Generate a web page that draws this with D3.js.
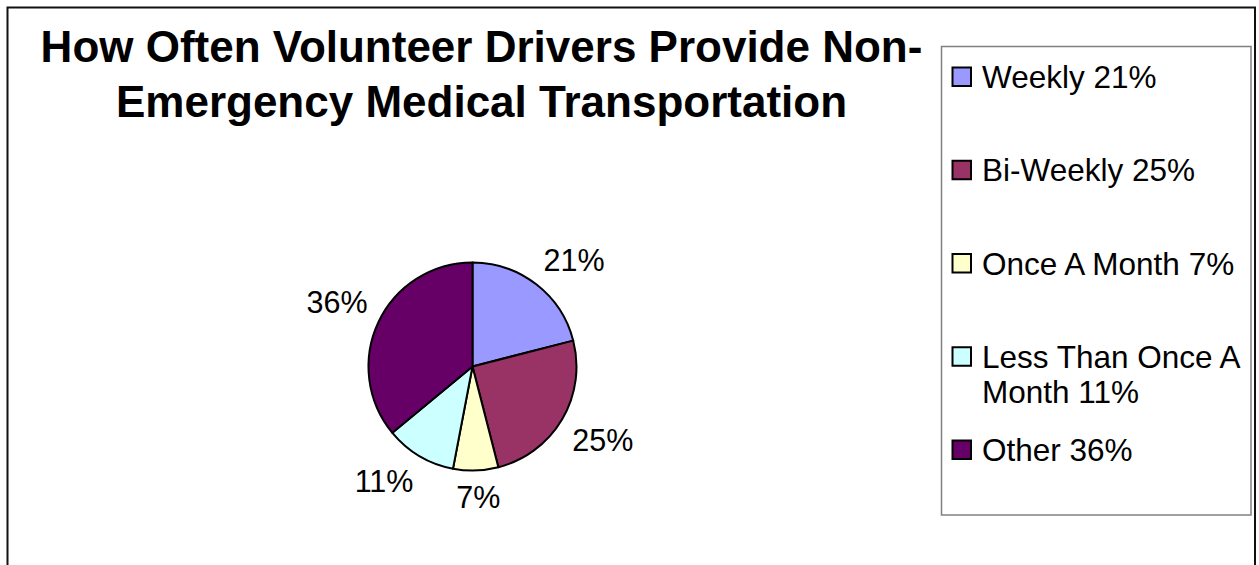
<!DOCTYPE html>
<html>
<head>
<meta charset="utf-8">
<script src="https://cdnjs.cloudflare.com/ajax/libs/d3/7.8.5/d3.min.js"></script>
<style>
  body { margin: 0; background: #fff; }
  svg { display: block; font-family: "Liberation Sans", Arial, sans-serif; }
</style>
</head>
<body>
<div id="chart"></div>
<script>
const WIDTH = 1259;
const HEIGHT = 565;

const categories = ["Weekly", "Bi-Weekly", "Once A Month", "Less Than Once A Month", "Other"];
const values = [21, 25, 7, 11, 36];
const colors = ["#9999ff", "#993366", "#ffffcc", "#ccffff", "#660066"];
// legend text split the way the picture wraps it
const legendLines = [
    ["Weekly 21%"],
    ["Bi-Weekly 25%"],
    ["Once A Month 7%"],
    ["Less Than Once A", "Month 11%"],
    ["Other 36%"]
];
const titleLines = ["How Often Volunteer Drivers Provide Non-", "Emergency Medical Transportation"];

const CX = 472.5;
const CY = 366.5;
const R = 104;
const LABEL_R = 116;
const LABEL_SIZE = 30.5;

let svg = d3.select("#chart")
            .append("svg")
            .attr("width", WIDTH)
            .attr("height", HEIGHT);

svg.append("rect")
    .attr("width", WIDTH)
    .attr("height", HEIGHT)
    .attr("fill", "#fff");

// chart area frame, bottom edge runs off the picture
svg.append("rect")
    .attr("x", 7.5)
    .attr("y", 7.5)
    .attr("width", 1247.5)
    .attr("height", 600)
    .attr("fill", "none")
    .attr("stroke", "#111")
    .attr("stroke-width", 2);

svg.append("text")
    .attr("text-anchor", "middle")
    .attr("font-size", 44)
    .attr("font-weight", "bold")
    .selectAll("tspan")
    .data(titleLines)
    .join("tspan")
    .attr("x", 481.5)
    .attr("y", (d, i) => 62 + i * 55)
    .text(d => d);

// pie
let pie = d3.pie().sort(null).value(d => d);
let arcs = pie(values);
let arc = d3.arc().innerRadius(0).outerRadius(R);

let pieG = svg.append("g").attr("transform", `translate(${CX},${CY})`);

pieG.selectAll("path")
    .data(arcs)
    .join("path")
    .attr("d", arc)
    .attr("fill", (d, i) => colors[i])
    .attr("stroke", "#000")
    .attr("stroke-width", 2)
    .attr("stroke-linejoin", "round");

// data labels: the label box corner nearest the pie sits on the mid angle
let clamp = v => Math.max(-1, Math.min(1, v));
pieG.selectAll("text.lbl")
    .data(arcs)
    .join("text")
    .attr("class", "lbl")
    .attr("font-size", LABEL_SIZE)
    .attr("text-anchor", "middle")
    .text(d => d.data + "%")
    .each(function(d) {
        let a = (d.startAngle + d.endAngle) / 2;
        let w = this.getComputedTextLength();
        let h = 30;
        let ax = Math.sin(a) * LABEL_R;
        let ay = -Math.cos(a) * LABEL_R;
        let cx = ax + clamp(Math.sin(a) * 3) * w / 2;
        let cy = ay - clamp(Math.cos(a) * 3) * h / 2;
        d3.select(this)
            .attr("x", cx)
            .attr("y", cy + LABEL_SIZE * 0.358);
    });

// legend
const LEG_X = 941.5;
const LEG_Y = 46.5;
const LEG_W = 309.5;
const LEG_H = 468.5;
const LEG_SIZE = 31.5;
const LEG_LINE = 35;

svg.append("rect")
    .attr("x", LEG_X)
    .attr("y", LEG_Y)
    .attr("width", LEG_W)
    .attr("height", LEG_H)
    .attr("fill", "#fff")
    .attr("stroke", "#808080")
    .attr("stroke-width", 1.5);

// entries sit on an even step, the wrapped one runs into the gap below it
let legendY = d3.scalePoint()
    .domain(categories)
    .range([88, 461]);

let items = svg.append("g")
    .selectAll("g")
    .data(categories)
    .join("g")
    .attr("transform", d => `translate(${LEG_X}, ${legendY(d)})`);

items.append("rect")
    .attr("x", 11)
    .attr("y", -20.5)
    .attr("width", 18.5)
    .attr("height", 18.5)
    .attr("fill", (d, i) => colors[i])
    .attr("stroke", "#000")
    .attr("stroke-width", 2);

items.append("text")
    .attr("font-size", LEG_SIZE)
    .selectAll("tspan")
    .data((d, i) => legendLines[i])
    .join("tspan")
    .attr("x", 40.5)
    .attr("y", (d, j) => j * LEG_LINE)
    .text(d => d);
</script>
</body>
</html>
